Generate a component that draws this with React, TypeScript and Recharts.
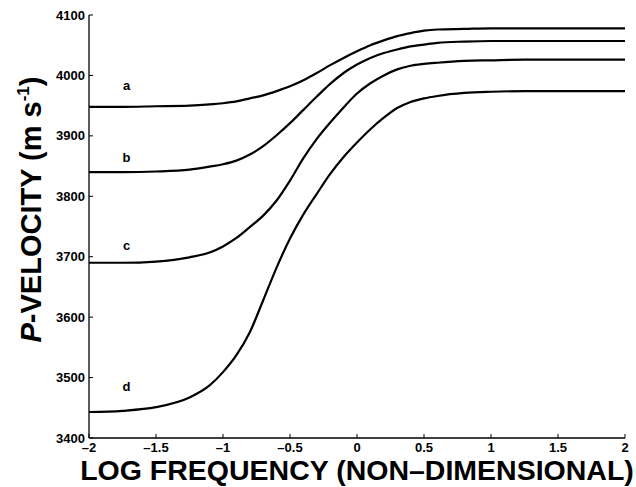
import { LineChart, Line, XAxis, YAxis, ReferenceDot } from 'recharts';

const LOG_FREQ = [-2, -1.75, -1.5, -1.25, -1.1, -1, -0.9, -0.8, -0.7, -0.6, -0.5, -0.4, -0.3, -0.2, -0.1, 0, 0.1, 0.2, 0.3, 0.4, 0.5, 0.6, 0.8, 1, 1.25, 1.5, 2];
const CURVE_A = [3948, 3948, 3949, 3950, 3952, 3954, 3957, 3962, 3967, 3974, 3982, 3992, 4004, 4017, 4029, 4040, 4050, 4058, 4065, 4070, 4074, 4076, 4077, 4078, 4078, 4078, 4078];
const CURVE_B = [3840, 3840, 3841, 3844, 3849, 3853, 3859, 3869, 3883, 3901, 3921, 3943, 3965, 3986, 4004, 4018, 4029, 4037, 4043, 4048, 4051, 4054, 4056, 4057, 4057, 4057, 4057];
const CURVE_C = [3690, 3690, 3692, 3699, 3707, 3717, 3731, 3749, 3768, 3793, 3826, 3863, 3895, 3922, 3947, 3970, 3987, 4000, 4010, 4016, 4019, 4021, 4024, 4025, 4026, 4026, 4026];
const CURVE_D = [3443, 3445, 3451, 3467, 3487, 3509, 3537, 3575, 3628, 3682, 3730, 3770, 3804, 3837, 3865, 3889, 3911, 3930, 3946, 3956, 3962, 3966, 3971, 3973, 3974, 3974, 3974];

const X_TICKS = [-2, -1.5, -1, -0.5, 0, 0.5, 1, 1.5, 2];
const Y_TICKS = [3400, 3500, 3600, 3700, 3800, 3900, 4000, 4100];

// curve name labels, placed in data units
const LABEL_NAMES = ['a', 'b', 'c', 'd'];
const LABEL_X = [-1.72, -1.72, -1.72, -1.72];
const LABEL_Y = [3983, 3865, 3719, 3486];

const data = LOG_FREQ.map((x, i) => ({ x, a: CURVE_A[i], b: CURVE_B[i], c: CURVE_C[i], d: CURVE_D[i] }));

const FONT = '"Liberation Sans", Arial, Helvetica, sans-serif';
const tickStyle = { fontFamily: FONT, fontWeight: 700, fontSize: 13, fill: '#000' };
const fmtX = (v: number) => (v < 0 ? '\u2013' + Math.abs(v) : String(v));

const XTitle = (props: any) => {
  const { viewBox } = props;
  return (
    <text x={viewBox.x + viewBox.width / 2} y={480} textAnchor="middle"
      fontFamily={FONT} fontWeight={700} fontSize={28.5} fill="#000">
      LOG FREQUENCY (NON{'\u2013'}DIMENSIONAL)
    </text>
  );
};

const YTitle = (props: any) => {
  const { viewBox } = props;
  const cx = 41;
  const cy = viewBox.y + viewBox.height / 2 - 17;
  return (
    <text x={cx} y={cy} transform={`rotate(-90 ${cx} ${cy})`} textAnchor="middle"
      fontFamily={FONT} fontWeight={700} fontSize={29} fill="#000">
      <tspan fontStyle="italic">P</tspan>
      <tspan>-VELOCITY (m s</tspan>
      <tspan fontSize={17} dy={-12}>-1</tspan>
      <tspan dy={12}>)</tspan>
    </text>
  );
};

const App = () => {
  return (
    <div style={{ position: 'absolute', left: 0, top: 0 }}>
      <LineChart width={636} height={487} data={data} margin={{ top: 15, right: 11, bottom: 0, left: 0 }}>
        <XAxis xAxisId="bottom" type="number" dataKey="x" domain={[-2, 2]} ticks={X_TICKS}
          height={49} tickSize={-4} tickMargin={9} tickFormatter={fmtX} tick={tickStyle}
          axisLine={{ stroke: '#000', strokeWidth: 1.3 }} tickLine={{ stroke: '#000' }}
          label={{ content: XTitle }} allowDataOverflow />
        <XAxis xAxisId="top" orientation="top" type="number" dataKey="x" domain={[-2, 2]} ticks={X_TICKS}
          height={0} tickSize={-4} tick={false}
          axisLine={{ stroke: '#000', strokeWidth: 1.3 }} tickLine={{ stroke: '#000' }} allowDataOverflow />
        <YAxis yAxisId="left" type="number" domain={[3400, 4100]} ticks={Y_TICKS}
          width={89} tickSize={-4} tickMargin={8} tick={tickStyle}
          axisLine={{ stroke: '#000', strokeWidth: 1.3 }} tickLine={{ stroke: '#000' }}
          label={{ content: YTitle }} allowDataOverflow />
        <YAxis yAxisId="right" orientation="right" type="number" domain={[3400, 4100]} ticks={Y_TICKS}
          width={0} tickSize={-4} tick={false}
          axisLine={{ stroke: '#000', strokeWidth: 1.3 }} tickLine={{ stroke: '#000' }} allowDataOverflow />
        {['a', 'b', 'c', 'd'].map((k) => (
          <Line key={k} xAxisId="bottom" yAxisId="left" type="monotone" dataKey={k}
            stroke="#000" strokeWidth={2.2} dot={false} isAnimationActive={false} />
        ))}
        {LABEL_NAMES.map((name, i) => (
          <ReferenceDot key={name} xAxisId="bottom" yAxisId="left" x={LABEL_X[i]} y={LABEL_Y[i]}
            r={1} fill="none" stroke="none"
            label={{ value: name, position: 'center', fontFamily: FONT, fontWeight: 700, fontSize: 13, fill: '#000' }} />
        ))}
      </LineChart>
    </div>
  );
};

export default App;
